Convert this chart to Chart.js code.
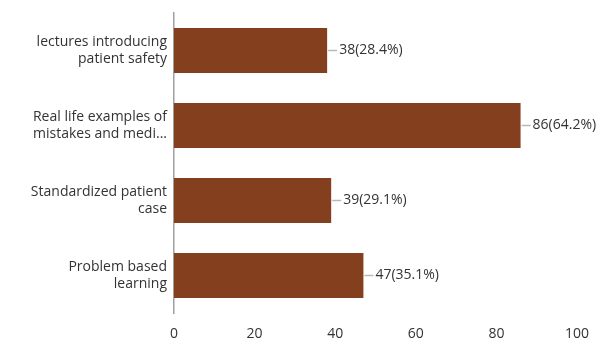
<!DOCTYPE html>
<html>
<head>
<meta charset="utf-8">
<script src="https://cdn.jsdelivr.net/npm/chart.js@4"></script>
<style>
  html, body { margin: 0; padding: 0; background: #fff; }
  #wrap { width: 608px; height: 343px; }
</style>
</head>
<body>
<div id="wrap"><canvas id="grafico"></canvas></div>
<script>
// datos del grafico
const categorias = [
    ["lectures introducing", "patient safety"],
    ["Real life examples of", "mistakes and medi..."],
    ["Standardized patient", "case"],
    ["Problem based", "learning"]
];
const valores = [38, 86, 39, 47];
const porcentajes = ["28.4%", "64.2%", "29.1%", "35.1%"];
const ticksX = [0, 20, 40, 60, 80, 100];

const fuente = "'Open Sans', sans-serif";

// etiquetas al final de cada barra con una pequeña linea guia
const etiquetasBarra = {
    id: 'etiquetasBarra',
    afterDatasetsDraw(chart) {
        const ctx = chart.ctx;
        const meta = chart.getDatasetMeta(0);
        ctx.save();
        ctx.font = "14px " + fuente;
        ctx.textBaseline = 'middle';
        ctx.textAlign = 'left';
        meta.data.forEach((bar, i) => {
            const x = bar.x;
            const y = bar.y;
            ctx.strokeStyle = '#b8b8b8';
            ctx.lineWidth = 1.5;
            ctx.beginPath();
            ctx.moveTo(x + 1, y);
            ctx.lineTo(x + 10, y);
            ctx.stroke();
            ctx.fillStyle = '#333';
            ctx.fillText(valores[i] + "(" + porcentajes[i] + ")", x + 12, y);
        });
        ctx.restore();
    }
};

const ctx = document.getElementById('grafico').getContext('2d');
const grafico = new Chart(ctx, {
    type: 'bar',
    data: {
        labels: categorias,
        datasets: [{
            data: valores,
            backgroundColor: '#843f1f',
            borderWidth: 0,
            categoryPercentage: 0.6,
            barPercentage: 1
        }]
    },
    options: {
        indexAxis: 'y',
        responsive: true,
        maintainAspectRatio: false,
        animation: false,
        layout: { padding: { top: 13, right: 31, bottom: 0, left: 0 } },
        plugins: {
            legend: { display: false },
            tooltip: { enabled: false }
        },
        scales: {
            x: {
                min: 0,
                max: 100,
                afterBuildTicks(axis) {
                    axis.ticks = ticksX.map(v => ({ value: v }));
                },
                afterFit(axis) {
                    axis.height = 30;
                    axis.paddingLeft = 0;
                    axis.paddingRight = 0;
                },
                grid: { display: false },
                border: { display: false },
                ticks: {
                    padding: 5,
                    color: '#333',
                    font: { family: fuente, size: 14 }
                }
            },
            y: {
                afterFit(axis) {
                    axis.width = 174;
                    axis.paddingTop = 0;
                    axis.paddingBottom = 0;
                },
                grid: { display: false, drawTicks: false },
                border: { display: true, color: '#a0a0a0', width: 1.5 },
                ticks: {
                    padding: 7,
                    color: '#333',
                    font: { family: fuente, size: 14, lineHeight: 1.15 }
                }
            }
        }
    },
    plugins: [etiquetasBarra]
});
</script>
</body>
</html>
